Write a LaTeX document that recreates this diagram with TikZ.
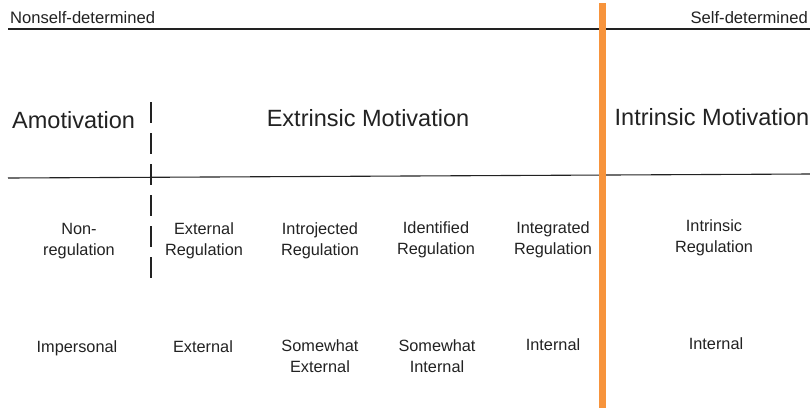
\documentclass[tikz,border=0pt]{standalone}
\usepackage{fontspec}
\setmainfont{Liberation Sans}
\definecolor{ink}{HTML}{222222}
\definecolor{orangebar}{HTML}{F7943C}
\begin{document}
\begin{tikzpicture}[x=1pt,y=-1pt,
  hdr/.style={text=ink,font=\fontsize{16.6}{18}\selectfont,inner sep=0pt},
  big/.style={text=ink,font=\fontsize{23.5}{26}\selectfont,inner sep=0pt},
  lbl/.style={text=ink,font=\fontsize{16.3}{21.5}\selectfont,align=center,inner sep=0pt},
  rule/.style={draw=ink,line width=1.3pt}]
\useasboundingbox (0,0) rectangle (810,408);
\fill[white] (0,0) rectangle (810,408);
% header
\node[hdr,anchor=west] (nsd) at (10,18) {Nonself-determined};
\node[hdr,anchor=east] (sd) at (808,18) {Self-determined};
\draw[rule] (8,29) -- (810,29);
% big headings
\node[big,anchor=west] (amo) at (12,120) {Amotivation};
\node[big] (ext) at (368,118) {Extrinsic Motivation};
\node[big] (intr) at (712,117) {Intrinsic Motivation};
\draw[draw=ink,line width=1.1pt] (8,178) -- (810,174);
% dashed divider
\draw[draw=ink,line width=2.6pt,dash pattern=on 21pt off 10pt] (151,102) -- (151,281);
% regulation row
\node[lbl] (r1) at (79,241) {Non-\\regulation};
\node[lbl] (r2) at (204,241) {External\\Regulation};
\node[lbl] (r3) at (320,241) {Introjected\\Regulation};
\node[lbl] (r4) at (436,240) {Identified\\Regulation};
\node[lbl] (r5) at (553,240) {Integrated\\Regulation};
\node[lbl] (r6) at (714,238) {Intrinsic\\Regulation};
% locus row
\node[lbl] (l1) at (77,348) {Impersonal};
\node[lbl] (l2) at (203,347) {External};
\node[lbl] (l3) at (320,356) {Somewhat\\External};
\node[lbl] (l4) at (437,356) {Somewhat\\Internal};
\node[lbl] (l5) at (553,345) {Internal};
\node[lbl] (l6) at (716,344) {Internal};
% orange bar
\fill[orangebar] (599,3) rectangle (606,408);
\end{tikzpicture}
\end{document}
